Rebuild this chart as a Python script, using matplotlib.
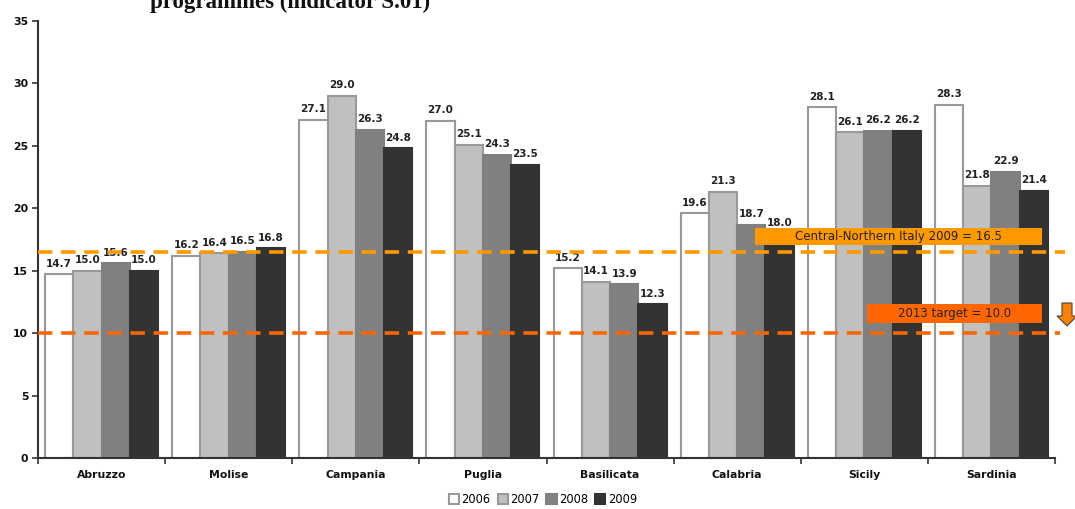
import numpy as np
import matplotlib
matplotlib.use("Agg")
import matplotlib.pyplot as plt
from matplotlib.patches import Rectangle, Polygon

regions = ["Abruzzo", "Molise", "Campania", "Puglia", "Basilicata", "Calabria", "Sicily", "Sardinia"]
years = ["2006", "2007", "2008", "2009"]
v2006 = [14.7, 16.2, 27.1, 27.0, 15.2, 19.6, 28.1, 28.3]
v2007 = [15.0, 16.4, 29.0, 25.1, 14.1, 21.3, 26.1, 21.8]
v2008 = [15.6, 16.5, 26.3, 24.3, 13.9, 18.7, 26.2, 22.9]
v2009 = [15.0, 16.8, 24.8, 23.5, 12.3, 18.0, 26.2, 21.4]
cn_italy = 16.5
target = 10.0

series = [v2006, v2007, v2008, v2009]
fills = ["#FFFFFF", "#C0C0C0", "#808080", "#333333"]
edges = ["#999999", "#999999", "#808080", "#333333"]

fig = plt.figure(figsize=(10.75, 5.09), dpi=100)
ax = fig.add_axes([38/1075, 51/509, 1017/1075, 437/509])

x = np.arange(len(regions))
w = 1/4.5
for i, vals in enumerate(series):
    pos = x + (i - 1.5)*w
    ax.bar(pos, vals, width=w, color=fills[i], edgecolor=edges[i], linewidth=1.5, label=years[i], zorder=2)
    for p, v in zip(pos, vals):
        ax.text(p, v + 0.45, f"{v:.1f}", ha="center", va="bottom", fontsize=7.5,
                fontweight="bold", color="#222222", zorder=3)

# reference lines
ax.plot([-0.5, 7.58], [cn_italy, cn_italy], color="#FF9900", lw=2.6, dashes=(4, 2.4),
        clip_on=False, zorder=4)
ax.plot([-0.5, 7.54], [target, target], color="#FF6600", lw=2.6, dashes=(4, 2.4),
        clip_on=False, zorder=4)

# label boxes
ax.add_patch(Rectangle((5.141, 17.06), 2.258, 1.36, facecolor="#FF9900", edgecolor="none", zorder=5))
ax.text(6.27, 17.74, f"Central-Northern Italy 2009 = {cn_italy:.1f}", ha="center", va="center",
        fontsize=8.5, color="#222222", zorder=6)
ax.add_patch(Rectangle((6.022, 10.81), 1.377, 1.52, facecolor="#FF6600", edgecolor="none", zorder=5))
ax.text(6.71, 11.57, f"2013 target = {target:.1f}", ha="center", va="center",
        fontsize=8.5, color="#222222", zorder=6)

# downward arrow at the right
arrow = Polygon([(1062/1075, 1-303/509), (1072/1075, 1-303/509), (1072/1075, 1-316/509),
                 (1077/1075, 1-316/509), (1067/1075, 1-326/509), (1057/1075, 1-316/509),
                 (1062/1075, 1-316/509)], closed=True, transform=fig.transFigure,
                facecolor="#FF8000", edgecolor="#444444", lw=0.8)
fig.patches.append(arrow)

ax.set_xlim(-0.5, 7.5)
ax.set_ylim(0, 35)
ax.set_yticks(np.arange(0, 36, 5))
ax.set_xticks(np.arange(-0.5, 8, 1))
ax.set_xticklabels([])
ax.set_xticks(x, minor=True)
ax.set_xticklabels(regions, minor=True)
ax.tick_params(axis="x", which="minor", length=0, pad=9)
ax.tick_params(axis="x", which="major", length=4, width=1.2, color="#333333", direction="out")
ax.tick_params(axis="y", length=4, width=1.2, color="#333333", pad=3)
for lab in ax.get_xticklabels(minor=True) + ax.get_yticklabels():
    lab.set_fontsize(7.8)
    lab.set_fontweight("bold")
    lab.set_color("#111111")
for s in ["top", "right"]:
    ax.spines[s].set_visible(False)
for s in ["left", "bottom"]:
    ax.spines[s].set_color("#333333")
    ax.spines[s].set_linewidth(1.5)

fig.legend(loc="lower center", bbox_to_anchor=(0.505, -0.014), ncol=4, frameon=False,
           handlelength=0.9, handleheight=0.9, handletextpad=0.2,
           columnspacing=0.6, prop={"size": 8.3})

# title, cut off at the top edge as in the source
fig.text(0.270, 1 - 8/509, "programmes (indicator S.01)", ha="center", va="baseline",
         fontsize=16.5, fontweight="bold", family="Liberation Serif", color="#111111")

fig.savefig("out.png", dpi=100)
